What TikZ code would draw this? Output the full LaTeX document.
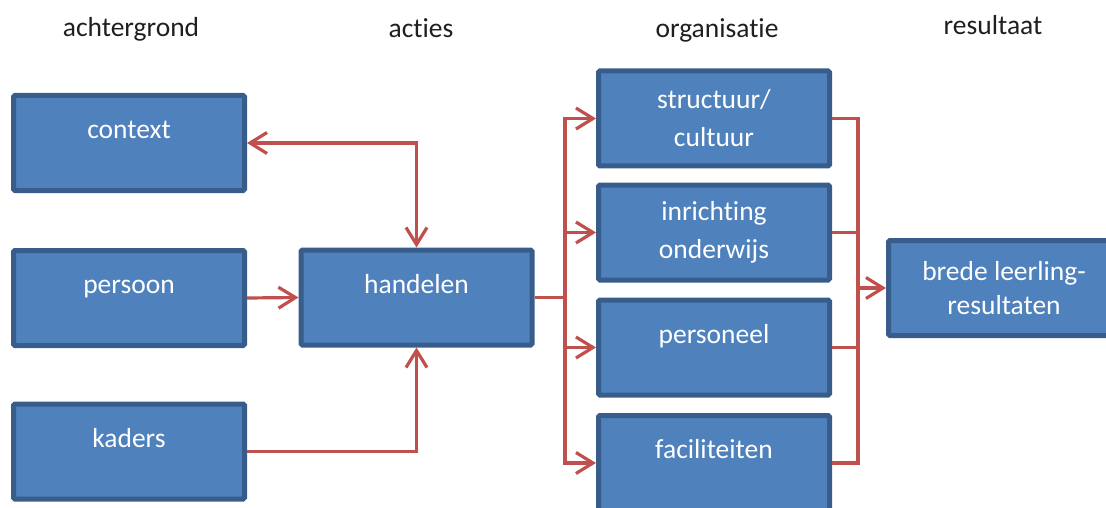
\documentclass[tikz,border=0pt]{standalone}
\usepackage{fontspec}
\setmainfont[Ligatures={NoCommon}]{Carlito}
\usetikzlibrary{arrows.meta}
\definecolor{boxfill}{HTML}{4F81BD}
\definecolor{boxline}{HTML}{385D8A}
\definecolor{conn}{HTML}{C0504D}
\definecolor{hdr}{HTML}{1F1F1F}
\tikzset{
  blok/.style={draw=boxline, fill=boxfill, line width=5pt, rounded corners=1.5pt,
    minimum width=231pt, minimum height=95pt, inner sep=0pt, text=white,
    align=center, font=\fontsize{27.5}{38}\selectfont},
  single/.style={text height=20pt, text depth=29pt},
  kop/.style={anchor=base, text=hdr, font=\fontsize{27.5}{33}\selectfont},
  verb/.style={draw=conn, line width=3.2pt},
  pijl/.style={verb, arrows={-Straight Barb[length=17pt,width=21pt,line width=3.2pt]}},
  dubbel/.style={verb, arrows={Straight Barb[length=17pt,width=21pt,line width=3.2pt]-Straight Barb[length=17pt,width=21pt,line width=3.2pt]}}
}
\begin{document}
\begin{tikzpicture}[x=1pt,y=-1pt]
\useasboundingbox (0,0) rectangle (1106,508);
% headers
\node[kop] (h1) at (131,37) {achtergrond};
\node[kop] (h2) at (421,38) {acties};
\node[kop] (h3) at (717,38) {organisatie};
\node[kop] (h4) at (993,35) {resultaat};
% boxes
\node[blok,single] (context) at (129,143) {context};
\node[blok,single] (persoon) at (129,298) {persoon};
\node[blok,single] (kaders) at (129,451.5) {kaders};
\node[blok,single] (handelen) at (416.5,297.5) {handelen};
\node[blok] (structuur) at (714,118.5) {structuur/\\cultuur};
\node[blok] (inrichting) at (714,232.5) {inrichting\\onderwijs};
\node[blok,single] (personeel) at (714,347.5) {personeel};
\node[blok,single] (faciliteiten) at (714,463) {faciliteiten};
\node[blok,font=\fontsize{27.5}{34}\selectfont] (brede) at (1004,288) {brede leerling-\\resultaten};
% connectors
\draw[dubbel] (context.east) -| (handelen.north);
\draw[pijl] (persoon.east) -- (handelen.west);
\draw[pijl] (kaders.east) -| (handelen.south);
\coordinate (split) at (565,297.5);
\draw[verb] (handelen.east) -- (split);
\draw[pijl] (split) |- (structuur.west);
\draw[pijl] (split) |- (inrichting.west);
\draw[pijl] (split) |- (personeel.west);
\draw[pijl] (split) |- (faciliteiten.west);
\coordinate (merge) at (858,288);
\draw[verb] (structuur.east) -| (merge);
\draw[verb] (inrichting.east) -| (merge);
\draw[verb] (personeel.east) -| (merge);
\draw[verb] (faciliteiten.east) -| (merge);
\draw[pijl] (merge) -- (brede.west);
\end{tikzpicture}
\end{document}
